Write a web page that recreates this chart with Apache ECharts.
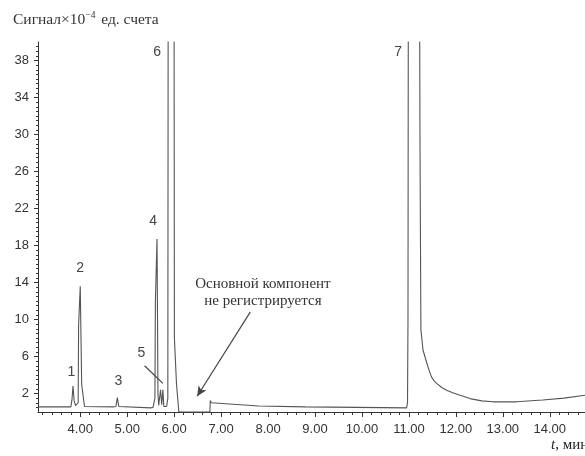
<!DOCTYPE html>
<html>
<head>
<meta charset="utf-8">
<script src="https://cdn.jsdelivr.net/npm/echarts@6/dist/echarts.min.js"></script>
<style>
  html, body { margin: 0; padding: 0; background: #fff; }
  #chart { width: 585px; height: 456px; }
</style>
</head>
<body>
<div id="chart"></div>
<script>
// retention time, min
const times = [
  3.10, 3.80, 3.825, 3.845, 3.87, 3.90, 3.955, 3.965, 4.00, 4.03, 4.09,
  4.70, 4.76, 4.79, 4.82, 4.85, 5.50, 5.55, 5.59, 5.60, 5.635, 5.655, 5.67,
  5.69, 5.71, 5.735, 5.76, 5.78, 5.84, 5.865, 5.875, 5.995, 6.005, 6.05, 6.10,
  6.76, 6.77, 6.79, 7.80, 8.80, 8.82, 10.95, 10.97, 10.98, 10.99,
  11.22, 11.235, 11.255, 11.30, 11.34, 11.38, 11.43, 11.48, 11.53, 11.59, 11.70, 11.80, 11.95,
  12.09, 12.30, 12.55, 12.79, 13.29, 13.85, 14.30, 14.80
];
// signal x 10^-4 counts
const signal = [
  0.55, 0.55, 1.4, 2.8, 1.2, 0.7, 1.0, 9.4, 13.6, 3.0, 0.6,
  0.55, 0.6, 1.55, 0.6, 0.45, 0.45, 0.5, 1.5, 12, 18.7, 2, 0.7,
  0.7, 2.4, 0.8, 2.4, 0.6, 0.6, 1.5, 60, 60, 8, 3, 0,
  0, 1.25, 1.0, 0.65, 0.55, 0.45, 0.45, 1.0, 10, 60,
  60, 30, 8.9, 6.7, 6.0, 5.3, 4.5, 3.8, 3.4, 3.1, 2.65, 2.35, 2.05,
  1.8, 1.45, 1.2, 1.1, 1.1, 1.3, 1.5, 1.85
];

const xTicks = [4, 5, 6, 7, 8, 9, 10, 11, 12, 13, 14];
const yTicks = [2, 6, 10, 14, 18, 22, 26, 30, 34, 38];

const peakNames = ['1', '2', '3', '4', '5', '6', '7'];
const peakLabelT = [3.81, 4.0, 4.81, 5.55, 5.30, 5.64, 10.77];
const peakLabelV = [4.3, 15.6, 3.35, 20.6, 6.4, 38.9, 38.9];

const noteText = 'Основной компонент\nне регистрируется';

const xMinor = [];
for (let v = 3.2; v < 14.75; v += 0.2) xMinor.push(+v.toFixed(1));
const yMinor = [];
for (let v = 0.5; v < 40; v += 0.5) yMinor.push(v);

const chart = echarts.init(document.getElementById('chart'));

const axisColor = '#333';
const labelFont = { color: '#333', fontSize: 13, fontFamily: 'Liberation Sans, Arial, sans-serif' };

chart.setOption({
  animation: false,
  title: {
    left: 13,
    top: 10,
    padding: 0,
    text: '{a|Сигнал×10}{s|−4}{a| ед. счета}',
    textStyle: {
      fontWeight: 'normal',
      rich: {
        a: { fontSize: 15.5, fontWeight: 'normal', fontFamily: 'Liberation Serif, serif', color: '#333' },
        s: { fontSize: 9.5, fontWeight: 'normal', fontFamily: 'Liberation Serif, serif', color: '#333', padding: [0, 2, 9, 0] }
      }
    }
  },
  grid: { left: 38, right: 0, top: 42, bottom: 44 },
  xAxis: [
    {
      type: 'value', min: 3.1, max: 14.75,
      axisLine: { lineStyle: { color: axisColor } },
      axisTick: { customValues: xTicks, length: 5, lineStyle: { color: axisColor } },
      axisLabel: Object.assign({ customValues: xTicks, margin: 11, formatter: v => v.toFixed(2) }, labelFont),
      splitLine: { show: false }
    },
    {
      type: 'value', min: 3.1, max: 14.75, position: 'bottom',
      axisLine: { show: false },
      axisTick: { customValues: xMinor, length: 3, lineStyle: { color: axisColor } },
      axisLabel: { show: false },
      splitLine: { show: false }
    }
  ],
  yAxis: [
    {
      type: 'value', min: 0, max: 40,
      axisLine: { show: true, lineStyle: { color: axisColor } },
      axisTick: { show: true, customValues: yTicks, length: 4, lineStyle: { color: axisColor } },
      axisLabel: Object.assign({ customValues: yTicks, margin: 9 }, labelFont),
      splitLine: { show: false }
    },
    {
      type: 'value', min: 0, max: 40, position: 'left',
      axisLine: { show: false },
      axisTick: { show: true, customValues: yMinor, length: 2, lineStyle: { color: axisColor } },
      axisLabel: { show: false },
      splitLine: { show: false }
    }
  ],
  series: [
    {
      type: 'line',
      xAxisIndex: 0,
      yAxisIndex: 0,
      data: times.map((t, i) => [t, signal[i]]),
      showSymbol: false,
      clip: true,
      lineStyle: { color: '#555', width: 1.1 },
      markPoint: {
        symbol: 'circle',
        symbolSize: 0,
        label: {
          show: true, position: 'inside',
          color: '#444', fontSize: 14, fontFamily: 'Liberation Sans, Arial, sans-serif',
          formatter: p => p.name
        },
        data: peakNames.map((n, i) => ({ name: n, coord: [peakLabelT[i], peakLabelV[i]] })).concat([
          {
            name: noteText,
            coord: [7.89, 12.9],
            label: {
              color: '#333', fontSize: 15, lineHeight: 17,
              fontFamily: 'Liberation Serif, serif', align: 'center'
            }
          }
        ])
      },
      markLine: {
        silent: true,
        label: { show: false },
        data: [
          [
            { coord: [7.62, 10.8], symbol: 'none' },
            { coord: [6.49, 1.7], symbol: 'arrow', symbolSize: [7, 10] }
          ],
          [
            { coord: [5.37, 5.0], symbol: 'none' },
            { coord: [5.76, 3.1], symbol: 'none' }
          ]
        ],
        lineStyle: { color: '#444', width: 1.2, type: 'solid' }
      }
    }
  ],
  graphic: [
    {
      type: 'text', left: 551, top: 438,
      style: {
        text: '{i|t}{r|, мин}',
        rich: {
          i: { fontStyle: 'italic', fontSize: 15, fontFamily: 'Liberation Serif, serif', fill: '#222' },
          r: { fontSize: 15, fontFamily: 'Liberation Serif, serif', fill: '#222' }
        }
      }
    }
  ]
});
</script>
</body>
</html>
